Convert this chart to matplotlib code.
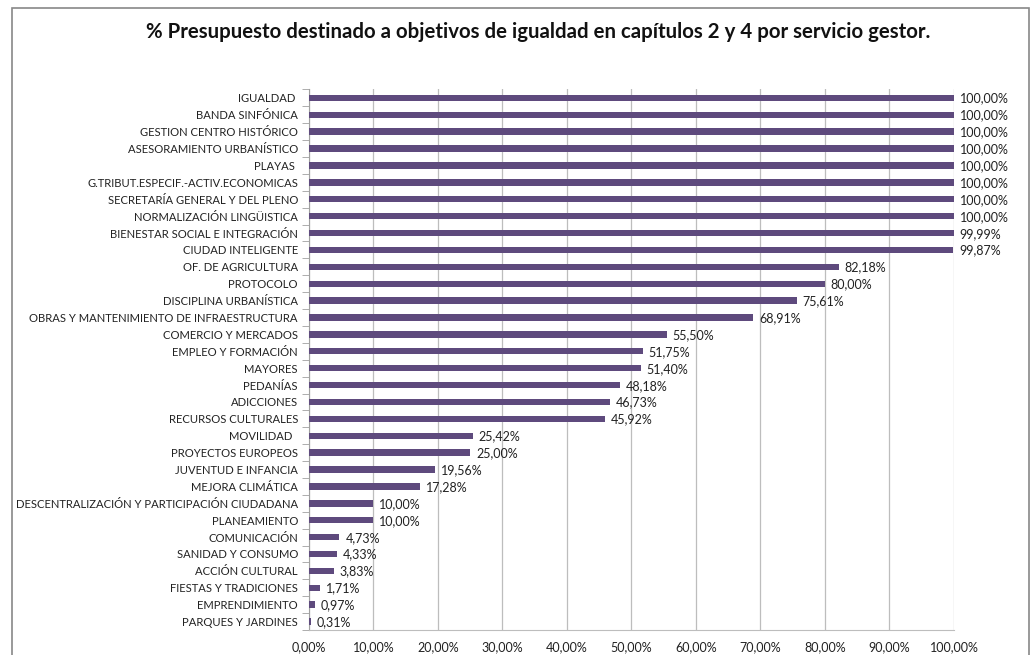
import matplotlib
matplotlib.use("Agg")
from matplotlib import pyplot as plt
from matplotlib.patches import Rectangle
from matplotlib.ticker import FuncFormatter, FixedLocator

# services, top to bottom as shown in the chart
servicios = [
    "IGUALDAD ", "BANDA SINFÓNICA", "GESTION CENTRO HISTÓRICO",
    "ASESORAMIENTO URBANÍSTICO", "PLAYAS ", "G.TRIBUT.ESPECIF.-ACTIV.ECONOMICAS",
    "SECRETARÍA GENERAL Y DEL PLENO", "NORMALIZACIÓN LINGÜISTICA",
    "BIENESTAR SOCIAL E INTEGRACIÓN", "CIUDAD INTELIGENTE", "OF. DE AGRICULTURA",
    "PROTOCOLO", "DISCIPLINA URBANÍSTICA",
    "OBRAS Y MANTENIMIENTO DE INFRAESTRUCTURA", "COMERCIO Y MERCADOS",
    "EMPLEO Y FORMACIÓN", "MAYORES", "PEDANÍAS", "ADICCIONES",
    "RECURSOS CULTURALES", "MOVILIDAD  ", "PROYECTOS EUROPEOS",
    "JUVENTUD E INFANCIA", "MEJORA CLIMÁTICA",
    "DESCENTRALIZACIÓN Y PARTICIPACIÓN CIUDADANA", "PLANEAMIENTO",
    "COMUNICACIÓN", "SANIDAD Y CONSUMO", "ACCIÓN CULTURAL",
    "FIESTAS Y TRADICIONES", "EMPRENDIMIENTO", "PARQUES Y JARDINES",
]
porcentajes = [
    100.00, 100.00, 100.00, 100.00, 100.00, 100.00, 100.00, 100.00,
    99.99, 99.87, 82.18, 80.00, 75.61, 68.91, 55.50, 51.75, 51.40,
    48.18, 46.73, 45.92, 25.42, 25.00, 19.56, 17.28, 10.00, 10.00,
    4.73, 4.33, 3.83, 1.71, 0.97, 0.31,
]
xticks = [0, 10, 20, 30, 40, 50, 60, 70, 80, 90, 100]

plt.rcParams['font.family'] = ['Lato', 'DejaVu Sans']

fig = plt.figure(figsize=(10.31, 6.55), dpi=100)
ax = fig.add_axes([0.2997, 0.0382, 0.6256, 0.8252])

pos = list(range(len(servicios)))
ax.barh(pos, porcentajes, height=0.38, color="#5E4A7D", zorder=3)
ax.set_ylim(len(servicios) - 0.5, -0.5)
ax.set_xlim(0, 100)

# value labels
for p, v in zip(pos, porcentajes):
    ax.text(v + 0.9, p + 0.04, f"{v:.2f}%".replace(".", ","), va="center",
            ha="left", fontsize=9, color="#222222", clip_on=False)

ax.set_yticks(pos)
ax.set_yticklabels(servicios, fontsize=8.1, color="#222222")
ax.tick_params(axis="y", which="major", length=0, pad=8)
ax.yaxis.set_minor_locator(FixedLocator([i - 0.5 for i in range(len(servicios) + 1)]))
ax.tick_params(axis="y", which="minor", length=5, color="#A0A0A0")

ax.set_xticks(xticks)
ax.xaxis.set_major_formatter(FuncFormatter(lambda x, _: f"{x:.2f}%".replace(".", ",")))
ax.tick_params(axis="x", length=0, labelsize=9, labelcolor="#222222", pad=8)
ax.grid(axis="x", color="#BDBDBD", linewidth=0.9, zorder=0)

for s in ["top", "right"]:
    ax.spines[s].set_visible(False)
ax.spines["left"].set_color("#A0A0A0")
ax.spines["bottom"].set_color("#BDBDBD")

fig.text(0.5223, 0.951, "% Presupuesto destinado a objetivos de igualdad en capítulos 2 y 4 por servicio gestor.",
         ha="center", va="center", fontsize=14.7, fontweight="bold", color="#111111")

# chart border
fig.add_artist(Rectangle((12 / 1031, -0.05), (1029 - 12) / 1031, 1.05 - 8 / 655,
                         transform=fig.transFigure, fill=False,
                         edgecolor="#888888", linewidth=1.2))

fig.savefig("out.png", dpi=100)
